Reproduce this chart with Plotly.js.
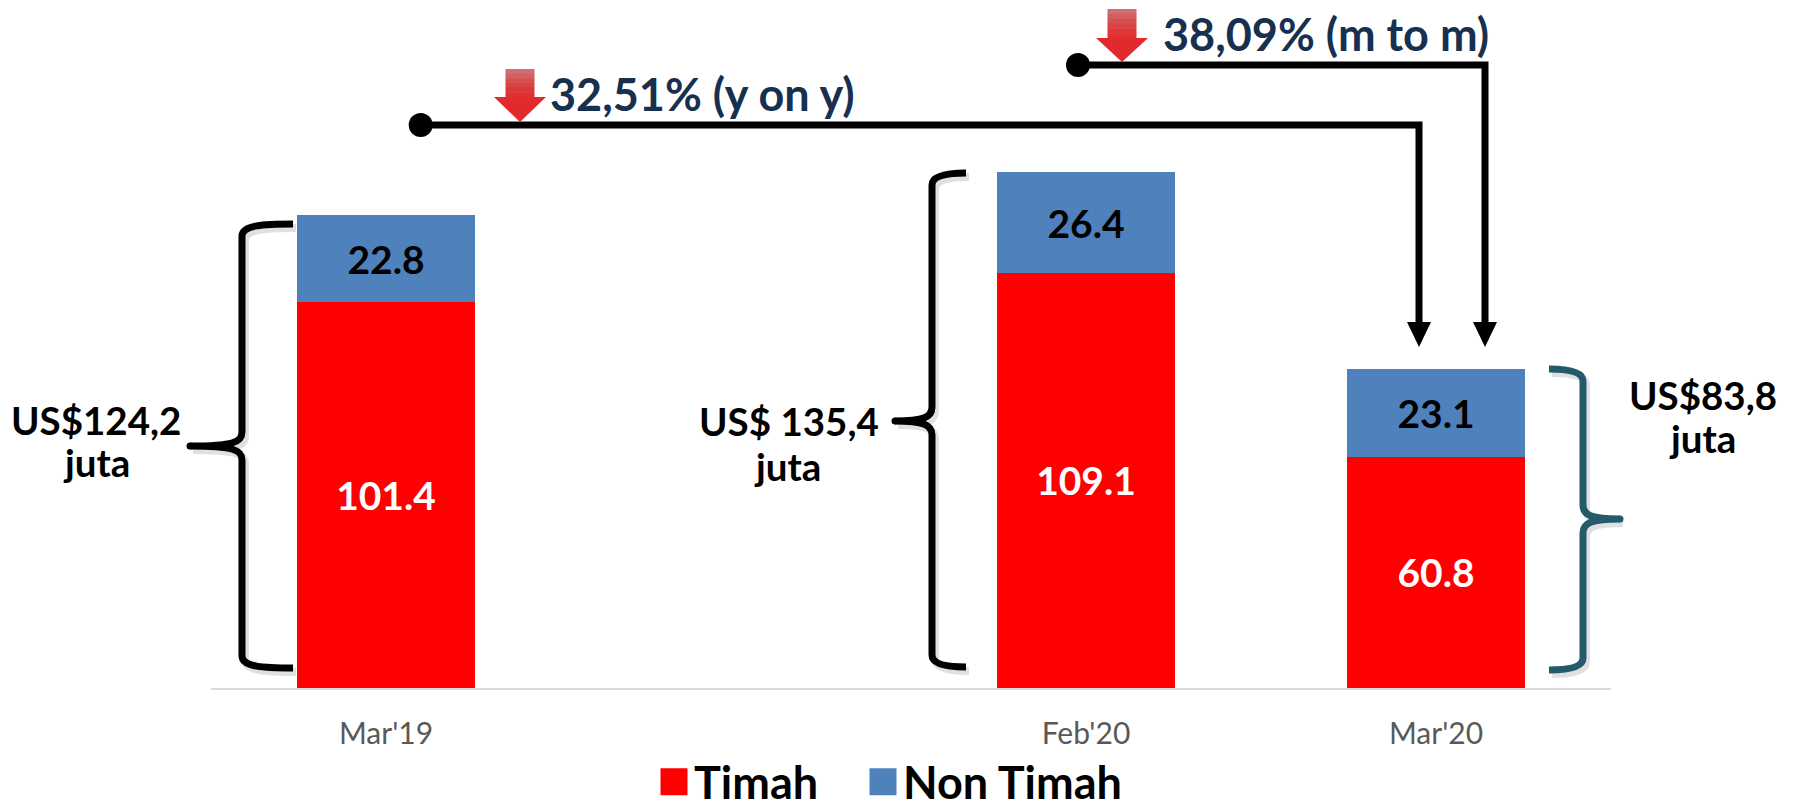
<!DOCTYPE html>
<html>
<head>
<meta charset="utf-8">
<script src="https://cdn.plot.ly/plotly-3.0.1.min.js"></script>
<style>html,body{margin:0;padding:0;background:#fff;overflow:hidden}</style>
</head>
<body>
<div id="chart" style="width:1794px;height:802px"></div>
<script>
const categories = ["Mar'19", " ", "Feb'20", "Mar'20"];
const timah = [101.4, null, 109.1, 60.8];
const nonTimah = [22.8, null, 26.4, 23.1];
const totalLabels = [["US$124,2", "juta"], ["US$ 135,4", "juta"], ["US$83,8", "juta"]];
const changeLabels = ["32,51% (y on y)", "38,09% (m to m)"];

const FONT = 'Lato, "Open Sans", sans-serif';
const L = 211, R = 1611, B = 688, H = 688;
const px = x => (x - L) / (R - L);
const py = y => (B - y) / H;
const P = (x, y) => px(x).toFixed(5) + ',' + py(y).toFixed(5);

const shapes = [];
const annotations = [];
function pathShape(d, opt) {
  shapes.push(Object.assign({type: 'path', xref: 'paper', yref: 'paper', path: d, layer: 'above'}, opt));
}
function circle(cx, cy, r, color) {
  shapes.push({type: 'circle', xref: 'paper', yref: 'paper', layer: 'above',
    x0: px(cx - r), x1: px(cx + r), y0: py(cy + r), y1: py(cy - r),
    fillcolor: color, line: {width: 0}});
}
function brace(xEnd, xV, xTip, yTop, yMid, yBot, color) {
  const s = Math.sign(xTip - xV), e = Math.sign(xEnd - xV);
  const d = 'M' + P(xEnd, yTop) +
    ' C' + P(xV + e * 22, yTop) + ' ' + P(xV, yTop + 1) + ' ' + P(xV, yTop + 12) +
    ' L' + P(xV, yMid - 14) +
    ' C' + P(xV, yMid - 4) + ' ' + P(xV + s * 8, yMid) + ' ' + P(xTip, yMid) +
    ' M' + P(xTip, yMid) +
    ' C' + P(xV + s * 8, yMid) + ' ' + P(xV, yMid + 4) + ' ' + P(xV, yMid + 14) +
    ' L' + P(xV, yBot - 12) +
    ' C' + P(xV, yBot - 1) + ' ' + P(xV + e * 22, yBot) + ' ' + P(xEnd, yBot);
  const shift = d.replace(/(-?[\d.]+),(-?[\d.]+)/g, (m, a, b) =>
    (parseFloat(a) + 3 / (R - L)).toFixed(5) + ',' + (parseFloat(b) - 4 / H).toFixed(5));
  pathShape(shift, {line: {color: 'rgba(0,0,0,0.12)', width: 8}});
  pathShape(d, {line: {color: color, width: 7}});
  circle(xTip, yMid, 3.5, color);
}
function connector(dotX, y, downX, tipY) {
  circle(dotX, y, 12, '#000');
  pathShape('M' + P(dotX, y) + ' L' + P(downX, y) + ' L' + P(downX, 324), {line: {color: '#000', width: 7}});
  pathShape('M' + P(downX - 12, 322) + ' L' + P(downX + 12, 322) + ' L' + P(downX, tipY) + ' Z',
    {fillcolor: '#000', line: {width: 0}});
}
function redArrow(xc, top, headTop, tip) {
  const steps = ['#cf6f72', '#d2605f', '#d6504f', '#da4343', '#dd3838', '#e03030'];
  const h = (headTop - top) / steps.length;
  steps.forEach((c, i) => {
    const y0 = top + i * h, y1 = top + (i + 1) * h + 0.5;
    pathShape('M' + P(xc - 14.5, y0) + ' L' + P(xc + 14.5, y0) + ' L' + P(xc + 14.5, y1) + ' L' + P(xc - 14.5, y1) + ' Z',
      {fillcolor: c, line: {width: 0}});
  });
  pathShape('M' + P(xc - 26, headTop) + ' L' + P(xc + 26, headTop) + ' L' + P(xc, tip) + ' Z',
    {fillcolor: '#e02a2d', line: {width: 0}});
}
function label(text, x, y, size, color, anchor) {
  annotations.push({text: text, xref: 'paper', yref: 'paper', x: px(x), y: py(y),
    xanchor: anchor || 'center', yanchor: 'middle', showarrow: false,
    font: {family: FONT, size: size, color: color, weight: 700}});
}

brace(293, 242, 190, 224, 446, 668, '#000');
brace(966, 932, 895, 173, 421, 667, '#000');
brace(1549, 1583, 1620, 369, 519, 670, '#245b6b');
connector(420.7, 125, 1419, 347);
connector(1078, 65, 1485, 347);
redArrow(520, 69, 97, 122);
redArrow(1122, 9, 38, 62);

label(totalLabels[0][0], 96, 420, 38.5, '#000');
label(totalLabels[0][1], 96, 462, 38.5, '#000');
label(totalLabels[1][0], 789, 421, 38.5, '#000');
label(totalLabels[1][1], 787, 466, 38.5, '#000');
label(totalLabels[2][0], 1703, 395, 38.5, '#000');
label(totalLabels[2][1], 1703, 438, 38.5, '#000');
label(changeLabels[0], 548, 94, 45, '#17304f', 'left');
label(changeLabels[1], 1161, 34, 45, '#17304f', 'left');

const barText = v => v.map(x => x === null ? '' : x.toFixed(1));
const traces = [
  {type: 'bar', name: 'Timah', x: categories, y: timah, marker: {color: '#ff0000'},
   text: barText(timah), textposition: 'inside', insidetextanchor: 'middle', textangle: 0, constraintext: 'none',
   insidetextfont: {family: FONT, size: 39, color: '#fff', weight: 700}, hoverinfo: 'x+y+name'},
  {type: 'bar', name: 'Non Timah', x: categories, y: nonTimah, marker: {color: '#4f81bd'},
   text: barText(nonTimah), textposition: 'inside', insidetextanchor: 'middle', textangle: 0, constraintext: 'none',
   insidetextfont: {family: FONT, size: 39, color: '#000', weight: 700}, hoverinfo: 'x+y+name'}
];
const layout = {
  width: 1794, height: 802,
  margin: {l: L, r: 1794 - R, t: 0, b: 802 - B, pad: 0, autoexpand: false},
  paper_bgcolor: '#fff', plot_bgcolor: '#fff',
  barmode: 'stack', bargap: 0.493,
  showlegend: true,
  legend: {orientation: 'h', traceorder: 'normal', xref: 'paper', yref: 'paper', x: px(654), y: py(746), xanchor: 'left', yanchor: 'top',
    entrywidth: 164, entrywidthmode: 'pixels', itemwidth: 30, itemclick: false, itemdoubleclick: false,
    bgcolor: 'rgba(0,0,0,0)',
    font: {family: FONT, size: 45, color: '#000', weight: 700}},
  xaxis: {type: 'category', categoryorder: 'array', categoryarray: categories, range: [-0.5, 3.5], automargin: false,
    showline: true, linecolor: '#d9d9d9', linewidth: 2, ticks: '', ticklabelstandoff: 18, showgrid: false, zeroline: false,
    fixedrange: true, tickfont: {family: FONT, size: 30, color: '#595959'}},
  yaxis: {range: [0, H / 3.806], visible: false, showgrid: false, zeroline: false, fixedrange: true},
  shapes: shapes, annotations: annotations
};
Plotly.newPlot('chart', traces, layout, {displayModeBar: false, responsive: false}).then(gd => {
  gd.querySelectorAll('.legendpoints path').forEach(p => p.setAttribute('d', 'M13.5,13.5H-13.5V-13.5H13.5Z'));
  gd.querySelectorAll('.legend, .legend .scrollbox').forEach(n => n.removeAttribute('clip-path'));
  gd.querySelectorAll('.legend .scrollbox').forEach(n => { n.style.clipPath = 'none'; });
});
</script>
</body>
</html>
